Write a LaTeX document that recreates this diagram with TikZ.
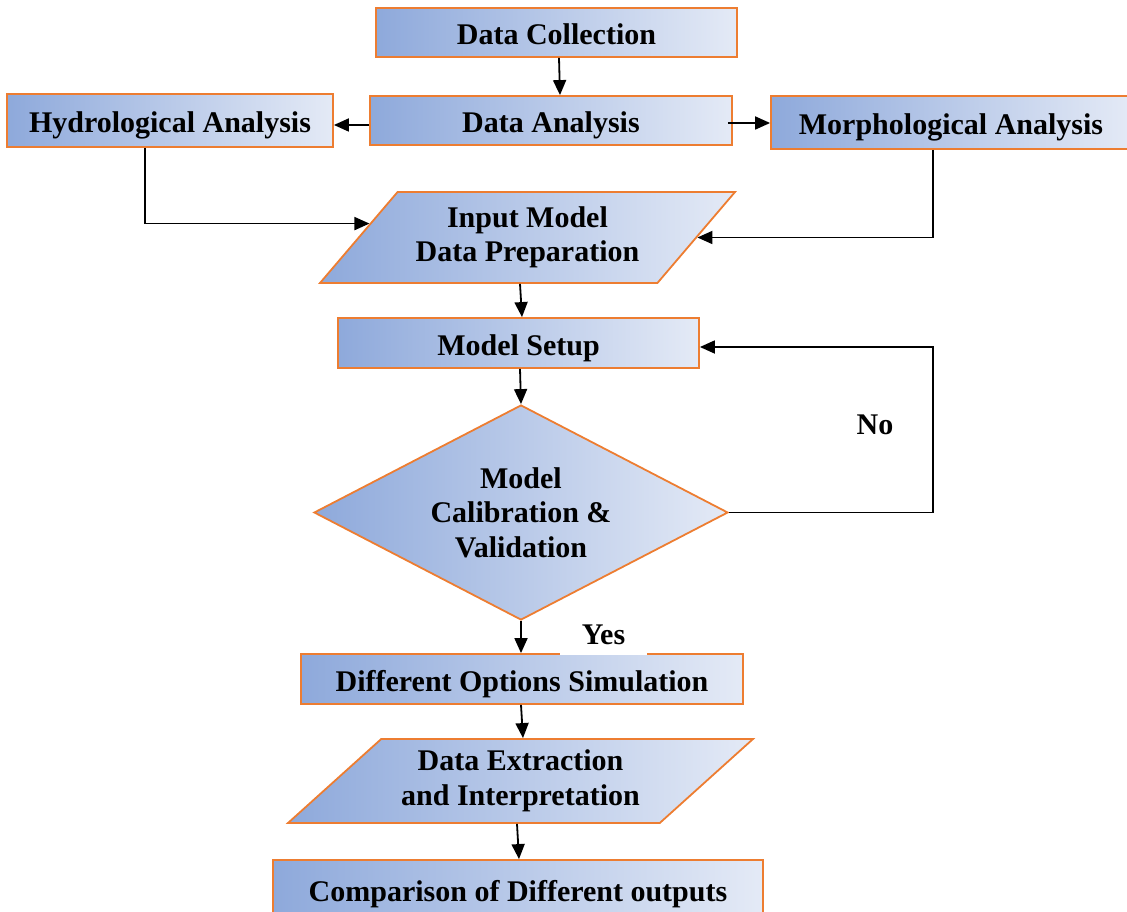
\documentclass[tikz,border=0pt]{standalone}
\usepackage{fontspec}
\setmainfont{Liberation Serif}
\usetikzlibrary{shapes.geometric,arrows.meta,calc}
\definecolor{boxblue}{HTML}{8EA9DB}
\definecolor{boxpale}{HTML}{E4EAF6}
\definecolor{boxedge}{HTML}{ED7D31}
\tikzset{
  flowtext/.style={font=\fontsize{30}{34.5}\selectfont\bfseries},
  shaded/.style={flowtext,draw=boxedge,line width=1.8pt,left color=boxblue,right color=boxpale,align=center,inner sep=0pt},
  procbox/.style={shaded,rectangle,text height=24pt,text depth=0pt},
  iobox/.style={shaded,trapezium,trapezium stretches body,trapezium left angle=#1,trapezium right angle=180-#1},
  decbox/.style={shaded,diamond,aspect=1.93},
  flowarrow/.style={-{Triangle[length=15pt,width=13pt]},line width=1.8pt}
}
\begin{document}
\begin{tikzpicture}[x=1pt,y=-1pt]
  \useasboundingbox (0,0) rectangle (1127,912);
  \node[procbox,minimum width=361pt,minimum height=49pt] (collect) at (556.5,32.5) {Data Collection};
  \node[procbox,minimum width=362pt,minimum height=49pt] (analysis) at (551,120.5) {Data Analysis};
  \node[procbox,minimum width=326pt,minimum height=53pt] (hydro) at (170,120.5) {Hydrological Analysis};
  \node[procbox,minimum width=360pt,minimum height=53pt] (morph) at (951,122.5) {Morphological Analysis};
  \node[iobox=38.5,minimum width=415pt,minimum height=91pt] (input) at (527.5,237.5) {Input Model\\Data Preparation};
  \node[procbox,minimum width=361pt,minimum height=50pt] (setup) at (518.5,343) {Model Setup};
  \node[decbox,minimum width=414pt,minimum height=215pt] (calib) at (521,512.5) {Model\\Calibration \&\\Validation};
  \node[procbox,minimum width=442pt,minimum height=50pt] (simul) at (522,679) {Different Options Simulation};
  \node[iobox=33.5,minimum width=465pt,minimum height=84pt] (extract) at (520.5,781) {Data Extraction\\and Interpretation};
  \node[procbox,minimum width=490pt,minimum height=58pt] (compare) at (518,889) {Comparison of Different outputs};
  \coordinate (loop) at (933,347);
  % connectors
  \draw[flowarrow] (collect.south -| 559,0) -- (analysis.north -| 560,0);
  \draw[flowarrow] (analysis.west |- 0,125) -- (hydro.east |- 0,125);
  \draw[flowarrow] ([xshift=-5pt]analysis.east |- 0,123) -- (morph.west |- 0,123);
  \draw[flowarrow] (hydro.south -| 145,0) |- ($(input.bottom left corner)!0.65!(input.top left corner)$);
  \draw[flowarrow] (morph.south -| 933,0) |- (input.east);
  \draw[flowarrow] (input.south -| 520,0) -- (setup.north -| 522,0);
  \draw[flowarrow] (setup.south -| 520,0) -- (calib.north);
  \draw[flowarrow] (calib.east) -| (loop) -- (setup.east |- loop);
  \draw[flowarrow] (calib.south) -- (simul.north -| calib.south);
  \draw[flowarrow] (simul.south -| 521,0) -- (extract.north -| 523,0);
  \draw[flowarrow] (extract.south -| 517,0) -- (compare.north -| 519,0);
  \node[flowtext] (no) at (875,425) {No};
  \node[flowtext,fill=white,minimum width=87pt,minimum height=40pt,inner sep=0pt] (yes) at (603.5,635) {Yes};
\end{tikzpicture}
\end{document}
